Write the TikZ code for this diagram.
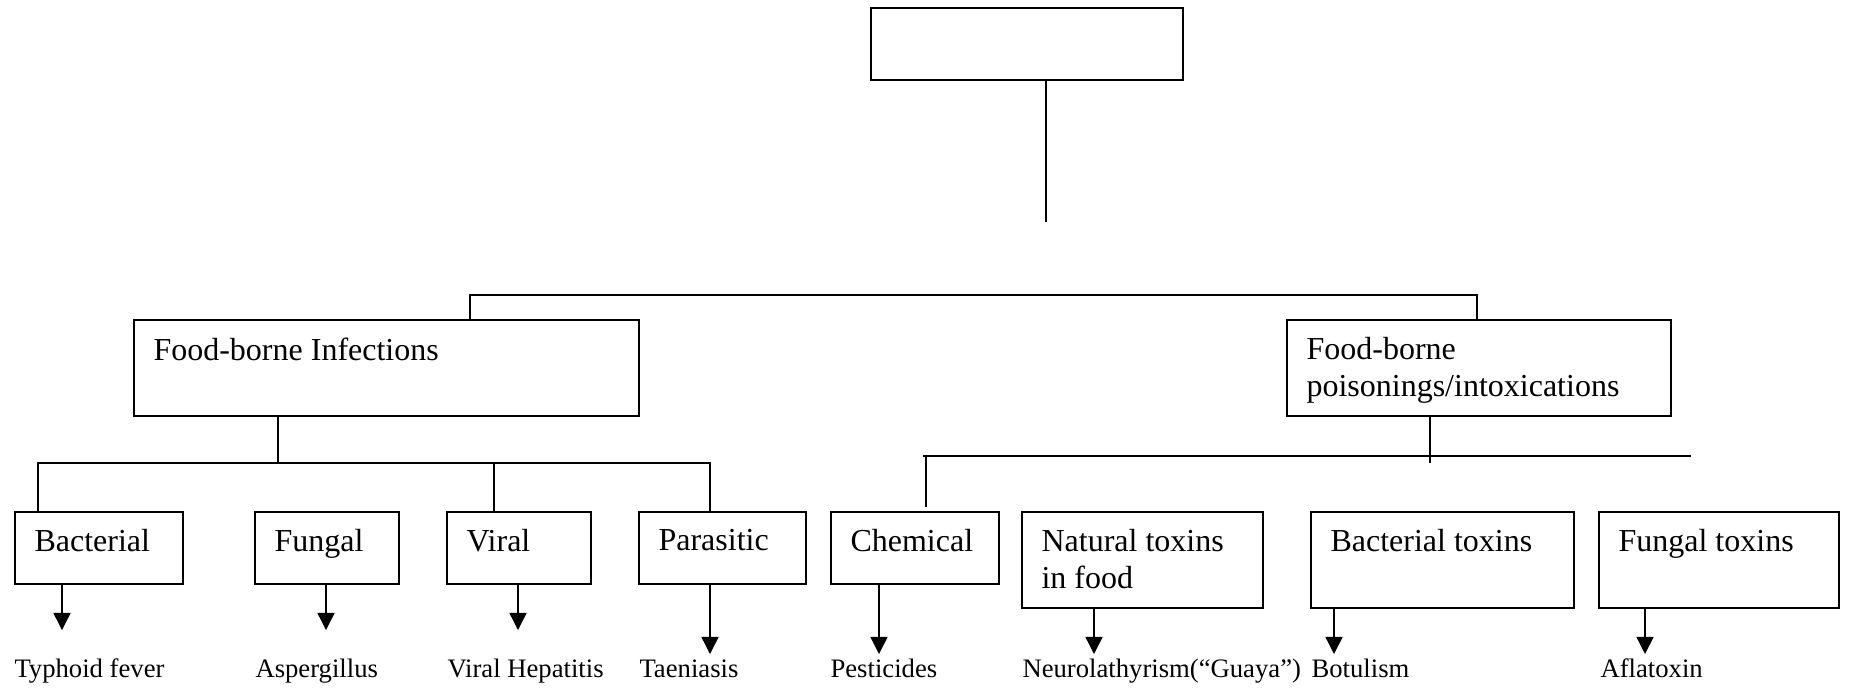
\documentclass[tikz,border=0pt]{standalone}
\usepackage{fontspec}
\setmainfont{Liberation Serif}
\usetikzlibrary{positioning, arrows.meta}
\tikzset{box/.style={draw, line width=0.75pt, anchor=north west, inner sep=0pt},
         boxtext/.style={anchor=north west, inner sep=0pt, align=left, xshift=7.5pt, yshift=-6.8pt,
                         font=\fontsize{12}{13.9}\selectfont},
         leaf/.style={anchor=base west, inner sep=0pt, font=\fontsize{10}{12}\selectfont},
         arr/.style={line width=0.5pt, -{Triangle[length=6.4pt,width=6.4pt]}},
         link/.style={line width=0.75pt},
        }

\begin{document}
\begin{tikzpicture}[x=0.375pt, y=-0.375pt]
        \useasboundingbox (0,0) rectangle (1849,691);
        % boxes
        \node[box, minimum width=117pt, minimum height=27pt](top)at(870,7){};
        \node[box, minimum width=189.4pt, minimum height=36pt, label={[boxtext]north west:Food-borne Infections}](inf)at(133,319){};
        \node[box, minimum width=144pt, minimum height=36pt, label={[boxtext]north west:Food-borne\\poisonings/intoxications}](poi)at(1286,319){};
        \node[box, minimum width=63pt, minimum height=27pt, label={[boxtext]north west:Bacterial}](bac)at(14,511){};
        \node[box, minimum width=54pt, minimum height=27pt, label={[boxtext]north west:Fungal}](fun)at(254,511){};
        \node[box, minimum width=54pt, minimum height=27pt, label={[boxtext]north west:Viral}](vir)at(446,511){};
        \node[box, minimum width=62.6pt, minimum height=27pt, label={[boxtext]north west:Parasitic}](par)at(638,511){};
        \node[box, minimum width=63pt, minimum height=27pt, label={[boxtext]north west:Chemical}](che)at(830,511){};
        \node[box, minimum width=90.4pt, minimum height=36pt, label={[boxtext]north west:Natural toxins\\in food}](nat)at(1021,511){};
        \node[box, minimum width=98.6pt, minimum height=36pt, label={[boxtext]north west:Bacterial toxins}](btx)at(1310,511){};
        \node[box, minimum width=90pt, minimum height=36pt, label={[boxtext]north west:Fungal toxins}](ftx)at(1598,511){};

        % examples
        \node[leaf](l1)at(14,677){Typhoid fever};
        \node[leaf](l2)at(255,677){Aspergillus};
        \node[leaf](l3)at(447,677){Viral Hepatitis};
        \node[leaf](l4)at(639,677){Taeniasis};
        \node[leaf](l5)at(830,677){Pesticides};
        \node[leaf](l6)at(1022,677){Neurolathyrism(``Guaya'')};
        \node[leaf](l7)at(1311,677){Botulism};
        \node[leaf](l8)at(1600,677){Aflatoxin};

        % connectors
        \coordinate(s0)at(1046,222);
        \draw[link](top.south -| s0)--(s0);
        \coordinate(m1)at(470,295);
        \coordinate(m2)at(1477,295);
        \draw[link](inf.north -| m1)--(m1)--(m2)--(poi.north -| m2);

        \coordinate(i0)at(278,463);
        \coordinate(i1)at(38,463);
        \coordinate(i3)at(494,463);
        \coordinate(i4)at(710,463);
        \draw[link](inf.south -| i0)--(i0);
        \draw[link](bac.north -| i1)--(i1)--(i4)--(par.north -| i4);
        \draw[link](i3)--(vir.north -| i3);

        \coordinate(p0)at(1430,463);
        \coordinate(pl)at(923,456);
        \coordinate(pr)at(1691,456);
        \coordinate(pc)at(926,456);
        \draw[line width=0.6pt](poi.south -| p0)--(p0);
        \draw[line width=0.6pt](pl)--(pr);
        \draw[line width=0.6pt, shorten >=1.5pt](pc)--(che.north -| pc);

        \coordinate(a1)at(62,630);
        \coordinate(a2)at(326,630);
        \coordinate(a3)at(518,630);
        \coordinate(a4)at(710,654);
        \coordinate(a5)at(879,654);
        \coordinate(a6)at(1094,654);
        \coordinate(a7)at(1334,654);
        \coordinate(a8)at(1645,654);
        \draw[arr](bac.south -| a1)--(a1);
        \draw[arr](fun.south -| a2)--(a2);
        \draw[arr](vir.south -| a3)--(a3);
        \draw[arr](par.south -| a4)--(a4);
        \draw[arr](che.south -| a5)--(a5);
        \draw[arr](nat.south -| a6)--(a6);
        \draw[arr](btx.south -| a7)--(a7);
        \draw[arr](ftx.south -| a8)--(a8);
    \end{tikzpicture}
\end{document}
